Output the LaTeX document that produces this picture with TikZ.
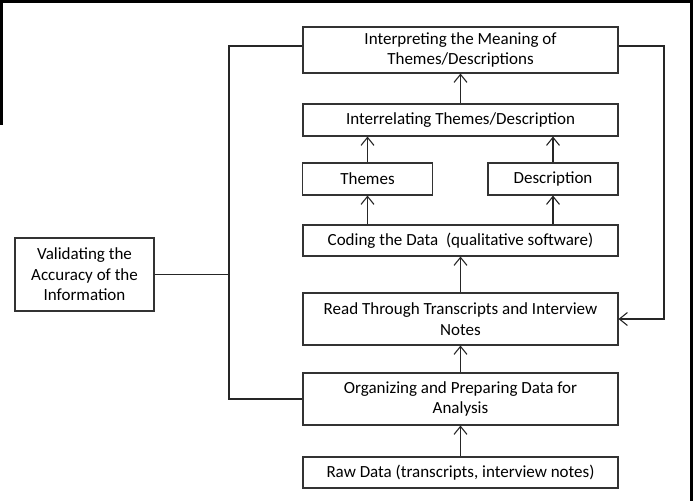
\documentclass[tikz,border=0pt]{standalone}
\usepackage{fontspec}
\setmainfont{Carlito}
\usetikzlibrary{arrows.meta}
\begin{document}
\begin{tikzpicture}[x=1pt,y=-1pt,
  box/.style={draw=black!80, line width=1.1pt, inner sep=0pt, align=center,
    font=\fontsize{17}{20.5}\selectfont, text=black},
  conn/.style={draw=black!85, line width=1.1pt},
  arr/.style={conn, -{Straight Barb[length=8pt,width=13pt,line width=1.1pt]}},
  frame/.style={draw=black, line width=3pt}]
\useasboundingbox (0,0) rectangle (699,501);
\draw[frame] (0,1.5) -- (691.5,1.5) -- (691.5,501);
\draw[frame] (1.5,0) -- (1.5,125);

\node[box, minimum width=315pt, minimum height=46pt] (interp) at (460.5,50) {Interpreting the Meaning of\\Themes/Descriptions};
\node[box, minimum width=315pt, minimum height=32pt] (interrel) at (460.5,120) {Interrelating Themes/Description};
\node[box, minimum width=130pt, minimum height=32pt] (themes) at (367.5,179) {Themes};
\node[box, minimum width=130pt, minimum height=32pt] (desc) at (553,179) {Description};
\node[box, minimum width=315pt, minimum height=31pt] (coding) at (460.5,240.5) {Coding the Data\ \ (qualitative software)};
\node[box, minimum width=315pt, minimum height=52pt] (read) at (460.5,319) {Read Through Transcripts and Interview\\Notes};
\node[box, minimum width=315pt, minimum height=52pt] (organize) at (460.5,399) {Organizing and Preparing Data for\\Analysis};
\node[box, minimum width=315pt, minimum height=31pt] (raw) at (460.5,472.5) {Raw Data (transcripts, interview notes)};
\node[box, minimum width=139pt, minimum height=73pt] (valid) at (84.5,274.5) {Validating the\\Accuracy of the\\Information};

\coordinate (rc) at (664,46);
\coordinate (lc) at (229,46);

\draw[arr] (interrel) -- (interp);
\draw[arr] (themes.north) -- (themes.north |- interrel.south);
\draw[arr] (desc.north) -- (desc.north |- interrel.south);
\draw[arr] (coding.north -| themes) -- (themes.south);
\draw[arr] (coding.north -| desc) -- (desc.south);
\draw[arr] (read) -- (coding);
\draw[arr] (organize) -- (read);
\draw[arr] (raw) -- (organize);

\draw[arr] ([yshift=4pt]interp.east) -- (rc) |- (read.east);
\draw[conn] ([yshift=4pt]interp.west) -- (lc) |- (organize.west);
\draw[conn] (valid.east) -- (valid.east -| lc);
\end{tikzpicture}
\end{document}
